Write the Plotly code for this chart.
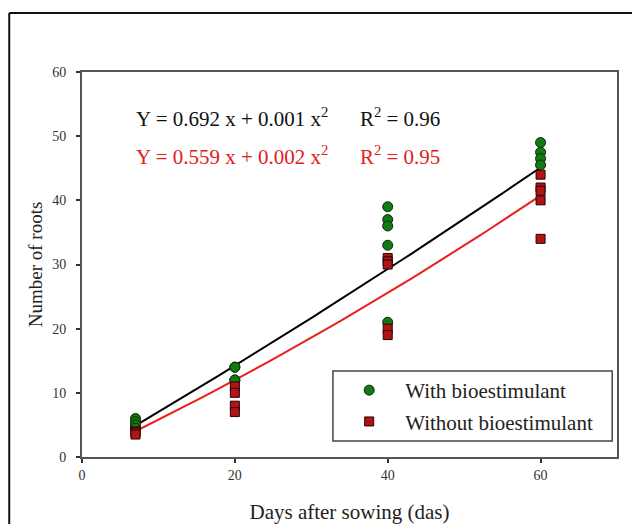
import numpy as np
import plotly.graph_objects as go

# Data
with_x = [7, 7, 7, 7, 20, 20, 20, 20, 40, 40, 40, 40, 40, 60, 60, 60, 60]
with_y = [6, 5.5, 5, 4.5, 14, 14, 12, 12, 39, 37, 36, 33, 21, 49, 47.5, 46.5, 45.5]
without_x = [7, 7, 7, 20, 20, 20, 20, 40, 40, 40, 40, 40, 60, 60, 60, 60, 60]
without_y = [4, 3.8, 3.5, 11, 10, 8, 7, 31, 30.5, 30, 20, 19, 44, 42, 41.5, 40, 34]

# Fitted equation coefficients (as printed on the chart)
with_coef = (0.692, 0.001)
without_coef = (0.559, 0.002)
fit_x_range = (7, 60)

fit_x = np.linspace(fit_x_range[0], fit_x_range[1], 60)
fit_with = with_coef[0] * fit_x + with_coef[1] * fit_x ** 2
fit_without = without_coef[0] * fit_x + without_coef[1] * fit_x ** 2

FONT = "Liberation Serif"
SP = "&nbsp;"

def eq_text(a, b, r2):
    return f"Y = {a} x + {b} x<sup>2</sup>" + SP * 6 + f"R<sup>2</sup> = {r2}"

fig = go.Figure()
fig.add_trace(go.Scatter(x=fit_x, y=fit_with, mode="lines",
                         line=dict(color="black", width=2), showlegend=False))
fig.add_trace(go.Scatter(x=fit_x, y=fit_without, mode="lines",
                         line=dict(color="#e8201a", width=2), showlegend=False))
fig.add_trace(go.Scatter(x=with_x, y=with_y, mode="markers", name="With bioestimulant",
                         legendgroup="a",
                         marker=dict(symbol="circle", size=10, color="#137a13",
                                     line=dict(color="#0a2a0a", width=1))))
fig.add_trace(go.Scatter(x=without_x, y=without_y, mode="markers", name="Without bioestimulant",
                         legendgroup="b",
                         marker=dict(symbol="square", size=9, color="#b01414",
                                     line=dict(color="#2a0000", width=1))))

axis_common = dict(showline=True, linecolor="#555555", linewidth=2, mirror=True,
                   ticks="outside", ticklen=4, tickcolor="#333333", tickwidth=1.5,
                   showgrid=False, zeroline=False, automargin=False,
                   tickfont=dict(family=FONT, size=14, color="#333333"))

fig.update_xaxes(range=[0, 70], tickvals=[0, 20, 40, 60], **axis_common,
                 title=dict(text="Days after sowing (das)",
                            font=dict(family=FONT, size=21, color="#222222"), standoff=25))
fig.update_yaxes(range=[0, 60], tickvals=[0, 10, 20, 30, 40, 50, 60], **axis_common,
                 ticklabelstandoff=7,
                 title=dict(text="Number of roots",
                            font=dict(family=FONT, size=19, color="#222222"), standoff=5))

fig.add_annotation(xref="paper", yref="paper", x=0.098, y=0.881, xanchor="left", yanchor="middle",
                   text=eq_text("0.692", "0.001", "0.96"), showarrow=False,
                   font=dict(family=FONT, size=21, color="#111111"))
fig.add_annotation(xref="paper", yref="paper", x=0.098, y=0.784, xanchor="left", yanchor="middle",
                   text=eq_text("0.559", "0.002", "0.95"), showarrow=False,
                   font=dict(family=FONT, size=21, color="#e02020"))

# outer frame (left and top edges visible)
fig.add_shape(type="line", xref="paper", yref="paper", x0=-0.136, x1=-0.136, y0=-0.3, y1=1.153,
              line=dict(color="#111111", width=2))
fig.add_shape(type="line", xref="paper", yref="paper", x0=-0.136, x1=1.1, y0=1.153, y1=1.153,
              line=dict(color="#111111", width=2))
# legend frame
fig.add_shape(type="rect", xref="paper", yref="paper", x0=0.469, x1=0.991, y0=0.0416, y1=0.2234,
              line=dict(color="#444444", width=1.5), fillcolor="rgba(0,0,0,0)", layer="below")

fig.update_layout(
    width=632, height=516,
    margin=dict(l=74, r=23, t=64, b=67),
    paper_bgcolor="white", plot_bgcolor="white",
    font=dict(family=FONT),
    legend=dict(x=0.4695, y=0.1325, xanchor="left", yanchor="middle",
                bgcolor="rgba(0,0,0,0)", borderwidth=0,
                font=dict(family=FONT, size=21, color="#222222"),
                itemwidth=62, tracegroupgap=1, traceorder="grouped"),
)

fig.write_html("out.html")
